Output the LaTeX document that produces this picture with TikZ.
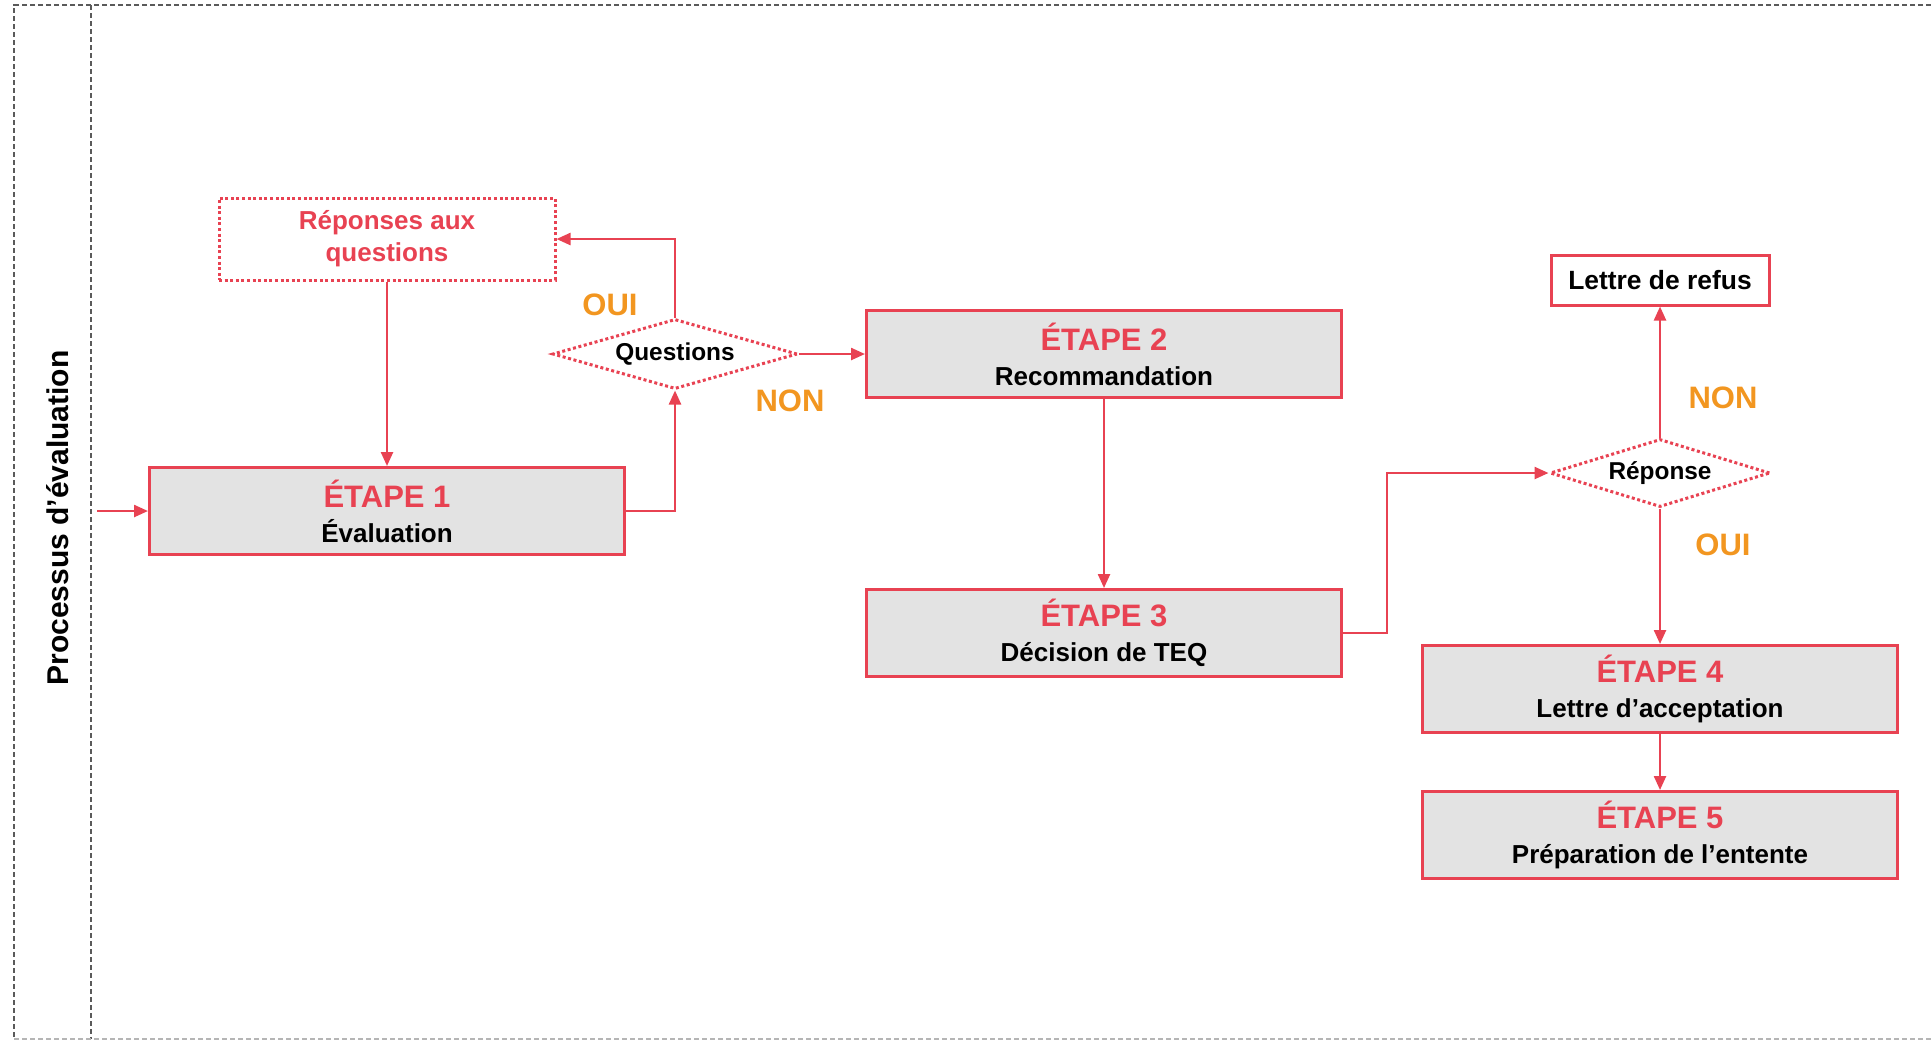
\documentclass[tikz,border=0pt]{standalone}
\usepackage{fontspec}
\setmainfont{Liberation Sans}
\usetikzlibrary{shapes.geometric,arrows.meta}

\definecolor{rosso}{RGB}{232,66,82}
\definecolor{arancio}{RGB}{242,150,32}
\definecolor{grigio}{RGB}{227,227,227}
\definecolor{bordo}{RGB}{90,90,90}

\tikzset{
    etape/.style={draw=rosso, line width=1.5pt, fill=grigio, align=center, inner sep=0pt,
        minimum width=237.5pt, minimum height=43.5pt, font=\bfseries\fontsize{13}{17.5}\selectfont},
    scelta/.style={diamond, draw=rosso, line width=1.5pt, dash pattern=on 1.5pt off 1.3pt,
        aspect=3.5, inner sep=0pt, font=\bfseries\fontsize{12.2}{14}\selectfont},
    freccia/.style={draw=rosso, line width=1.2pt, -{Triangle[length=7pt,width=6pt]}},
    esito/.style={text=arancio, font=\bfseries\fontsize{15.5}{17}\selectfont},
    corsia/.style={draw=bordo, line width=0.8pt, dash pattern=on 2.7pt off 1.3pt}
}

\begin{document}
\begin{tikzpicture}[x=0.5pt, y=-0.5pt]

\useasboundingbox (0,0) rectangle (1931,1041);

% Corsia
\draw[corsia] (1931,5) -| (14,1039);
\draw[corsia] (91,5) -- (91,1039);
\draw[corsia, draw=bordo!45] (14,1039) -- (1931,1039);
\node[rotate=90, font=\bfseries\fontsize{15}{17}\selectfont] (titolo) at (58,518) {Processus d’évaluation};

% Le cinque etape
\foreach \n/\x/\y/\testo in {1/387/511/Évaluation, 2/1104/354/Recommandation, 3/1104/633/Décision de TEQ,
    4/1660/689/Lettre d’acceptation, 5/1660/835/Préparation de l’entente} {
    \node[etape] (e\n) at (\x,\y) {{\color{rosso}\fontsize{15.5}{17.5}\selectfont ÉTAPE \n}\\\testo};
}

% Domande e risposte
\node[draw=rosso, line width=1.5pt, dash pattern=on 1.5pt off 1.3pt, minimum width=168pt, minimum height=41pt,
    inner sep=0pt, align=center, text=rosso, font=\bfseries\fontsize{13}{16}\selectfont] (risposte) at (387,239)
    {Réponses aux\\questions};
\node[scelta, minimum width=122.5pt, minimum height=35pt] (questions) at (675,354) {Questions};
\node[scelta, minimum width=110pt, minimum height=34pt] (reponse) at (1660,473) {Réponse};
\node[draw=rosso, line width=1.5pt, minimum width=109pt, minimum height=25pt, inner sep=0pt,
    font=\bfseries\fontsize{13.2}{15}\selectfont] (refus) at (1660,280) {Lettre de refus};

% Frecce
\coordinate (entrata) at (97,511);
\draw[freccia] (entrata) -- (e1.west);
\draw[freccia] (risposte.south) -- (e1.north);
\draw[freccia] (e1.east) -| (questions.south);
\draw[freccia] (questions.north) |- (risposte.east);
\draw[freccia] (questions.east) -- (e2.west);
\draw[freccia] (e2.south) -- (e3.north);
\draw[freccia] (e3.east) -- ++(44,0) |- (reponse.west);
\draw[freccia] (reponse.north) -- (refus.south);
\draw[freccia] (reponse.south) -- (e4.north);
\draw[freccia] (e4.south) -- (e5.north);

% Etichette OUI / NON
\node[esito] (oui1) at (610,305) {OUI};
\node[esito] (non1) at (790,401) {NON};
\node[esito] (non2) at (1723,398) {NON};
\node[esito] (oui2) at (1723,545) {OUI};

\end{tikzpicture}
\end{document}
